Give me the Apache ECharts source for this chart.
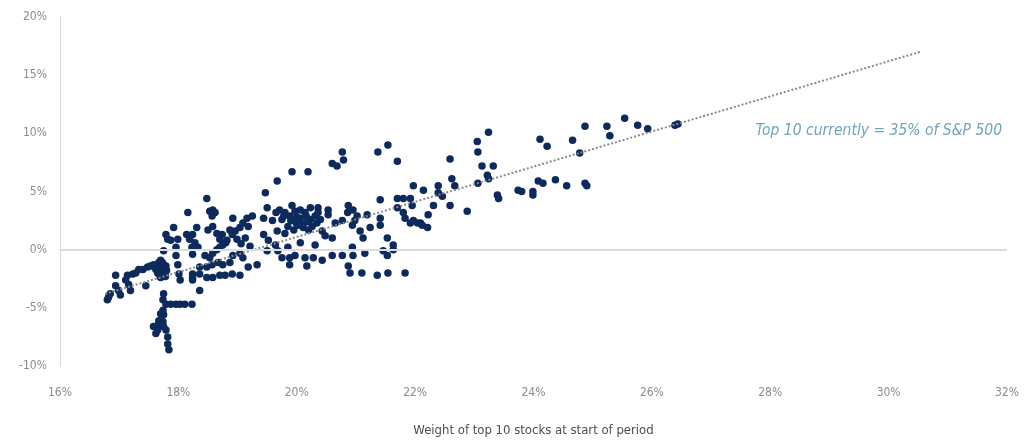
<!DOCTYPE html>
<html>
<head>
<meta charset="utf-8">
<title>Top 10 weight vs subsequent return</title>
<script src="https://cdn.jsdelivr.net/npm/echarts@6/dist/echarts.min.js"></script>
<style>
  html, body { margin: 0; padding: 0; background: #ffffff; }
  #chart { width: 1034px; height: 442px; }
</style>
</head>
<body>
<div id="chart"></div>
<script>
// Each period: [weight of top 10 stocks at start (%), return over the period (%)]
const periods = [
  [16.82,-4.1],[16.80,-4.3],[16.85,-3.8],[16.94,-2.2],[16.94,-3.1],[16.99,-3.5],[17.02,-3.9],
  [17.11,-2.6],[17.14,-2.2],[17.16,-3.0],[17.19,-3.5],[17.23,-2.1],[17.28,-2.0],[17.33,-1.7],
  [17.40,-1.7],[17.45,-3.1],[17.48,-1.5],[17.53,-1.4],[17.58,-1.3],[17.62,-1.7],[17.65,-2.0],
  [17.67,-2.1],[17.70,-2.4],[17.74,-1.8],[17.75,-1.3],[17.70,-1.5],[17.75,-0.1],[17.79,1.3],
  [17.82,0.9],[17.87,0.8],[17.92,1.9],[17.96,0.2],[17.99,0.9],[17.96,-0.5],[17.99,-1.3],
  [18.01,-2.1],[18.03,-2.6],[18.16,3.2],[18.14,1.3],[18.19,0.9],[18.23,0.2],[18.24,-2.1],
  [18.24,-2.6],[17.75,-3.8],[17.74,-4.3],[17.79,-4.7],[17.87,-4.7],[17.96,-4.7],[18.03,-4.7],
  [18.11,-4.7],[18.23,-4.7],[17.74,-5.2],[17.70,-5.5],[17.67,-6.1],[17.65,-6.5],[17.58,-6.6],
  [17.62,-7.2],[17.74,-6.2],[17.75,-6.6],[17.79,-6.9],[17.82,-7.5],[17.82,-8.1],[17.84,-8.6],
  [17.75,-5.6],[17.65,-6.9],[17.67,-1.1],[17.70,-0.9],[17.79,-1.4],[17.80,-1.8],[17.64,-1.4],
  [17.72,-1.6],[17.77,-2.0],[17.68,-1.9],[17.60,-1.5],[17.73,-1.1],[17.78,-2.3],
  [18.48,4.4],[18.53,3.3],[18.58,3.4],[18.57,2.9],[18.62,3.2],[18.50,1.7],[18.58,2.0],
  [18.65,1.4],[18.74,1.3],[18.31,1.9],[18.24,1.3],[18.28,0.6],[18.33,0.2],[18.24,-0.4],
  [18.45,-0.5],[18.53,-0.7],[18.58,-0.3],[18.65,0.0],[18.70,0.2],[18.75,0.4],[18.82,0.8],
  [18.87,1.7],[18.92,2.7],[18.91,1.3],[18.99,0.9],[19.04,1.9],[19.09,2.3],[19.16,2.7],
  [19.25,2.9],[19.18,2.0],[19.13,1.0],[19.21,0.3],[19.04,-0.3],[19.09,-0.7],[18.92,-0.5],
  [18.87,-1.1],[18.75,-1.3],[18.67,-1.1],[18.57,-1.3],[18.48,-1.5],[18.36,-1.5],[18.36,-2.1],
  [18.48,-2.4],[18.58,-2.4],[18.70,-2.2],[18.79,-2.2],[18.91,-2.1],[19.04,-2.2],[19.18,-1.5],
  [19.33,-1.3],[18.24,-2.4],[18.36,-3.5],[19.50,3.6],[19.67,5.9],[19.47,4.9],[19.44,2.7],
  [19.44,1.3],[19.52,0.8],[19.50,-0.1],[19.59,2.5],[19.67,1.6],[19.64,0.4],
  [18.80,0.6],[18.96,1.6],[19.06,0.5],[18.70,0.9],
  [19.92,6.7],[20.19,6.7],[20.60,7.4],[20.68,7.2],[20.77,8.4],[20.79,7.7],[20.36,3.6],
  [20.53,3.4],[20.53,3.0],[20.87,3.8],[20.86,3.2],[20.65,2.3],[20.77,2.5],[20.94,2.1],
  [20.43,1.6],[20.48,1.2],[20.60,1.0],[20.31,0.4],[20.06,0.6],[19.85,0.2],[19.75,-0.7],
  [19.88,-0.7],[19.97,-0.5],[20.14,-0.7],[20.28,-0.7],[20.43,-0.9],[20.60,-0.5],[20.77,-0.5],
  [19.88,-1.3],[20.17,-1.4],[19.68,-0.1],[20.94,0.2],[20.87,-1.4],
  [19.71,3.4],[19.80,3.2],[19.88,2.9],[19.97,3.3],[20.06,2.7],[20.14,3.2],[20.23,2.6],
  [19.99,2.3],[19.85,2.0],[20.11,1.9],[20.26,2.0],[20.40,2.6],[19.75,2.6],[19.65,3.2],
  [20.36,3.2],[19.92,3.8],[20.06,3.4],[20.23,3.6],[19.80,1.4],[19.95,1.7],
  [20.02,2.1],[20.18,2.4],[20.31,2.9],[19.90,2.5],[20.10,2.2],[20.20,1.7],[19.78,2.9],
  [20.34,2.3],[20.00,2.8],[20.16,2.9],
  [21.37,8.4],[21.54,9.0],[21.70,7.6],[21.97,5.5],[22.14,5.1],[21.70,4.4],[21.80,4.4],
  [21.92,4.4],[21.95,3.8],[21.41,4.3],[21.70,3.6],[21.80,3.2],[21.83,2.7],[21.92,2.3],
  [22.04,2.3],[22.12,2.1],[22.21,1.9],[21.41,2.7],[21.41,2.1],[21.19,3.0],[21.24,1.9],
  [21.07,1.6],[21.12,1.0],[20.98,2.5],[20.95,3.4],[21.02,2.9],[21.53,1.0],[21.63,0.4],
  [21.63,0.0],[21.46,-0.1],[21.53,-0.5],[21.15,-0.3],[20.95,-0.5],[20.90,-2.0],[21.10,-2.0],
  [21.36,-2.2],[21.54,-2.0],[21.83,-2.0],
  [23.24,10.1],[23.05,9.3],[23.06,8.4],[22.59,7.8],[23.13,7.2],[23.32,7.2],[22.62,6.1],
  [22.67,5.5],[23.06,5.7],[23.22,6.4],[23.24,6.1],[22.39,5.5],[22.39,4.9],[22.46,4.6],
  [22.31,3.8],[22.59,3.8],[22.88,3.3],[22.22,3.0],[23.39,4.7],[23.41,4.4],[23.74,5.1],
  [23.80,5.0],[24.11,9.5],[24.23,8.9],[24.66,9.4],[24.87,10.6],[25.24,10.6],[25.29,9.8],
  [24.78,8.3],[24.08,5.9],[24.16,5.7],[24.37,6.0],[24.56,5.5],[24.87,5.7],[24.90,5.5],
  [23.99,5.0],[23.99,4.7],[21.97,2.5],[22.09,2.3],[25.54,11.3],[25.76,10.7],[25.93,10.4],
  [26.39,10.7],[26.44,10.8]
];

// Fitted trend, start and end
const trendLine = [[16.76, -3.8], [30.53, 17.0]];

// Axis ranges
const xRange = [16, 32];
const yRange = [-10, 20];

const xTitle = 'Weight of top 10 stocks at start of period';
const note = 'Top 10 currently = 35% of S&P 500';
const notePosition = [27.75, 10.2];

const narrowFont = "'Liberation Sans Narrow', 'DejaVu Sans Condensed', Roboto, sans-serif";

const chart = echarts.init(document.getElementById('chart'), null, { renderer: 'canvas' });

chart.setOption({
  animation: false,
  backgroundColor: '#ffffff',
  grid: { left: 60, right: 27, top: 17, bottom: 72 },
  xAxis: {
    type: 'value',
    min: xRange[0],
    max: xRange[1],
    interval: 2,
    axisLine: { show: false },
    axisTick: { show: false },
    splitLine: { show: false },
    axisLabel: {
      formatter: '{value}%',
      color: '#8c8c8c',
      fontSize: 12,
      fontFamily: narrowFont,
      margin: 21
    },
    name: xTitle,
    nameLocation: 'middle',
    nameGap: 58,
    nameTextStyle: { color: '#4d4d4d', fontSize: 13, fontFamily: narrowFont }
  },
  yAxis: {
    type: 'value',
    min: yRange[0],
    max: yRange[1],
    interval: 5,
    axisLine: { show: true, lineStyle: { color: '#d9d9d9', width: 1 } },
    axisTick: { show: false },
    splitLine: { show: false },
    axisLabel: {
      formatter: '{value}%',
      color: '#8c8c8c',
      fontSize: 12,
      fontFamily: narrowFont,
      margin: 13
    }
  },
  series: [
    {
      name: 'Periods',
      type: 'scatter',
      data: periods,
      symbolSize: 7.5,
      itemStyle: { color: '#0d2a5c', opacity: 1 },
      z: 3,
      markLine: {
        silent: true,
        symbol: 'none',
        label: { show: false },
        lineStyle: { color: '#dcdcdc', width: 2, type: 'solid' },
        data: [{ yAxis: 0 }]
      }
    },
    {
      name: 'Trend',
      type: 'line',
      data: trendLine,
      symbol: 'none',
      lineStyle: { color: '#8a8a8a', width: 2, type: 'dotted' },
      z: 4
    },
    {
      name: 'Note',
      type: 'scatter',
      data: [notePosition],
      symbolSize: 0,
      silent: true,
      label: {
        show: true,
        position: 'right',
        distance: 0,
        formatter: note,
        fontStyle: 'italic',
        fontSize: 15.5,
        fontFamily: narrowFont,
        color: '#4a8fa6'
      }
    }
  ]
});
</script>
</body>
</html>
